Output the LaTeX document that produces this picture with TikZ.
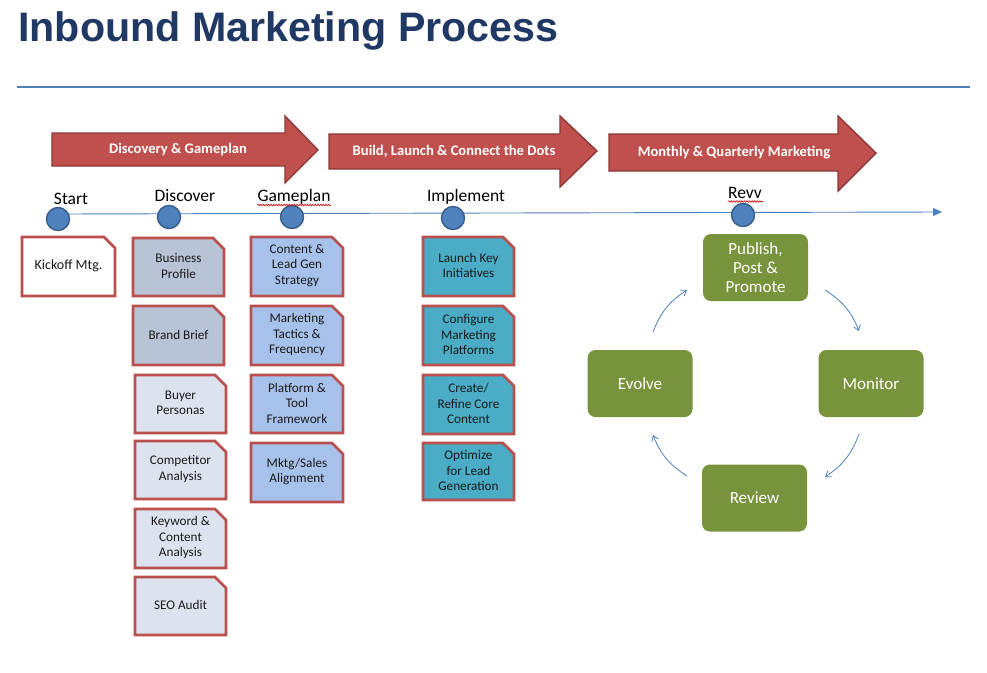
\documentclass[tikz,border=0pt]{standalone}
\usepackage{fontspec}
\setmainfont{Carlito}
\newfontfamily\titlefont{Liberation Sans}
\usetikzlibrary{arrows.meta,decorations.pathmorphing}
\definecolor{titleblue}{HTML}{1F3864}
\definecolor{lineblue}{HTML}{4F81BD}
\definecolor{dotborder}{HTML}{385D8A}
\definecolor{arrowred}{HTML}{C0504D}
\definecolor{arrowedge}{HTML}{8C3836}
\definecolor{boxedge}{HTML}{B9504D}
\definecolor{fillgray}{HTML}{B8C3D6}
\definecolor{filllight}{HTML}{DCE3EF}
\definecolor{fillblue}{HTML}{A7C2EA}
\definecolor{fillteal}{HTML}{4BACC6}
\definecolor{cyclegreen}{HTML}{77933C}
\definecolor{textdark}{HTML}{1A1A1A}
\newcommand{\snipbox}[7]{%
  \filldraw[boxborder, fill=#6] (#2,#3) -- ({#4-11},#3) -- (#4,{#3+11}) -- (#4,#5) -- (#2,#5) -- cycle;
  \node[boxtext] (#1) at ({(#2+#4)/2},{(#3+#5)/2-1}) {#7};}
\begin{document}
\begin{tikzpicture}[x=1pt,y=-1pt,
  boxborder/.style={draw=boxedge, line width=2.6pt, line join=miter},
  boxtext/.style={align=center, text=textdark, inner sep=0pt, font=\fontsize{13.2}{15.5}\selectfont},
  bigarrow/.style={fill=arrowred, draw=arrowedge, line width=1.4pt, line join=miter},
  arrowtext/.style={text=white, font=\bfseries\fontsize{14.6}{17}\selectfont, inner sep=0pt},
  dot/.style={circle, fill=lineblue, draw=dotborder, line width=1.4pt, minimum size=23pt, inner sep=0pt},
  steplabel/.style={anchor=base, font=\fontsize{17.5}{20}\selectfont, inner sep=0pt},
  spell/.style={draw=red!85!black, line width=0.6pt, decorate, decoration={snake, amplitude=0.8pt, segment length=2.6pt}},
  cyc/.style={fill=cyclegreen, rounded corners=8pt, minimum width=105pt, minimum height=67pt, align=center, text=white, font=\fontsize{17}{19}\selectfont, inner sep=0pt},
  cycarrow/.style={draw=lineblue, line width=0.8pt, -{Straight Barb[length=5pt,width=7pt]}, bend left=18}
]
\useasboundingbox (0,0) rectangle (987,672);
\fill[white] (0,0) rectangle (987,672);

% title
\node[anchor=base west, font=\titlefont\bfseries\fontsize{41.2}{50}\selectfont, text=titleblue, inner sep=0pt] (title) at (18,41) {Inbound Marketing Process};
\coordinate (ruleA) at (17,87);
\coordinate (ruleB) at (970,87);
\draw[lineblue, line width=1.2pt] (ruleA) -- (ruleB);

% phase arrows
\filldraw[bigarrow] (52,133) -- (285,133) -- (285,116) -- (318,150) -- (285,183) -- (285,166) -- (52,166) -- cycle;
\node[arrowtext] (ph1) at (178,150) {Discovery \& Gameplan};
\filldraw[bigarrow] (329,134) -- (560,134) -- (560,116) -- (597,151) -- (560,187) -- (560,169) -- (329,169) -- cycle;
\node[arrowtext] (ph2) at (454,151) {Build, Launch \& Connect the Dots};
\filldraw[bigarrow] (609,134) -- (838,134) -- (838,116) -- (876,153) -- (838,191) -- (838,171) -- (609,171) -- cycle;
\node[arrowtext] (ph3) at (734,153) {Monthly \& Quarterly Marketing};

% timeline
\coordinate (tlstart) at (58,214);
\coordinate (tlend) at (942,212);
\draw[lineblue, line width=0.9pt, -{Triangle[length=9pt,width=8pt]}] (tlstart) -- (tlend);
\node[dot] (d1) at (58,219) {};
\node[dot] (d2) at (169,217) {};
\node[dot] (d3) at (292,217) {};
\node[dot] (d4) at (453,218) {};
\node[dot] (d5) at (743,215) {};
\node[steplabel] (l1) at (71,204) {Start};
\node[steplabel] (l2) at (185,201) {Discover};
\node[steplabel] (l3) at (294,201) {Gameplan};
\node[steplabel] (l4) at (466,201) {Implement};
\node[steplabel] (l5) at (745,198) {Revv};
\draw[spell] (l3.base west) ++(0,4) -- ++(74,0);
\draw[spell] (l5.base west) ++(0,3.5) -- ++(35,0);

% start column
\snipbox{kick}{22}{237}{115}{296}{white}{\fontsize{14}{16}\selectfont Kickoff Mtg.}
% discover column
\snipbox{bp}{133}{238}{224}{296}{fillgray}{Business\\Profile}
\snipbox{bb}{133}{306}{224}{365}{fillgray}{Brand Brief}
\snipbox{buy}{135}{375}{226}{433}{filllight}{Buyer\\Personas}
\snipbox{comp}{135}{441}{226}{499}{filllight}{Competitor\\Analysis}
\snipbox{kw}{135}{509}{226}{568}{filllight}{Keyword \&\\Content\\Analysis}
\snipbox{seo}{135}{577}{226}{635}{filllight}{SEO Audit}
% gameplan column
\snipbox{clg}{251}{237}{343}{296}{fillblue}{Content \&\\Lead Gen\\Strategy}
\snipbox{mtf}{251}{306}{343}{365}{fillblue}{Marketing\\Tactics \&\\Frequency}
\snipbox{ptf}{251}{375}{343}{433}{fillblue}{Platform \&\\Tool\\Framework}
\snipbox{msa}{251}{443}{343}{502}{fillblue}{Mktg/Sales\\Alignment}
% implement column
\snipbox{lki}{423}{237}{514}{296}{fillteal}{Launch Key\\Initiatives}
\snipbox{cmp}{423}{306}{514}{365}{fillteal}{Configure\\Marketing\\Platforms}
\snipbox{crc}{423}{375}{514}{434}{fillteal}{Create/\\Refine Core\\Content}
\snipbox{olg}{423}{443}{514}{500}{fillteal}{Optimize\\for Lead\\Generation}

% cycle
\node[cyc] (pub) at (755.5,267.5) {Publish,\\Post \&\\Promote};
\node[cyc] (mon) at (871,383.5) {Monitor};
\node[cyc] (rev) at (754.5,498) {Review};
\node[cyc] (evo) at (640,383.5) {Evolve};
\coordinate (a1s) at (653,332); \coordinate (a1e) at (687,290);
\coordinate (a2s) at (825,290); \coordinate (a2e) at (859,331);
\coordinate (a3s) at (859,434); \coordinate (a3e) at (825,477);
\coordinate (a4s) at (687,476); \coordinate (a4e) at (653,435);
\draw[cycarrow] (a1s) to (a1e);
\draw[cycarrow] (a2s) to (a2e);
\draw[cycarrow] (a3s) to (a3e);
\draw[cycarrow] (a4s) to (a4e);
\end{tikzpicture}
\end{document}
